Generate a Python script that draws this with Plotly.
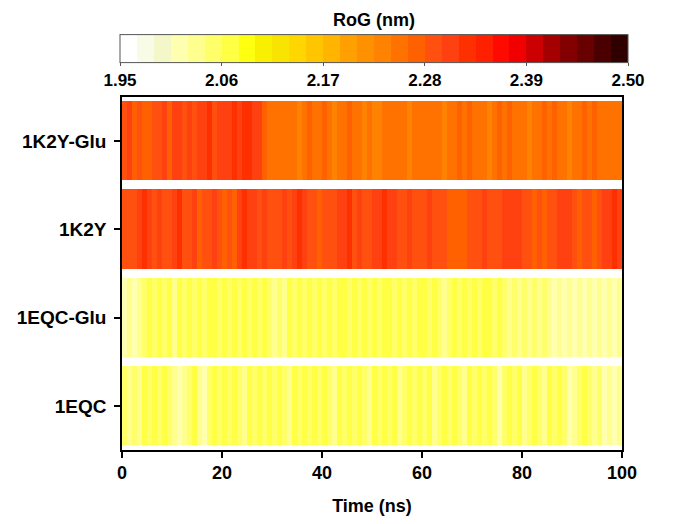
import plotly.graph_objects as go

# ---------------- data ----------------
systems = ["1EQC", "1EQC-Glu", "1K2Y", "1K2Y-Glu"]          # bottom -> top
time_ns = [i + 0.5 for i in range(100)]                       # bin centres (ns)

rog_1k2y_glu = [
    2.29, 2.30, 2.27, 2.285, 2.265, 2.27, 2.29, 2.285, 2.30, 2.27,
    2.31, 2.31, 2.29, 2.30, 2.285, 2.31, 2.30, 2.32, 2.29, 2.30,
    2.31, 2.30, 2.32, 2.31, 2.33, 2.32, 2.31, 2.30, 2.27, 2.255,
    2.25, 2.255, 2.25, 2.255, 2.25, 2.24, 2.255, 2.27, 2.25, 2.255,
    2.27, 2.25, 2.24, 2.255, 2.25, 2.27, 2.25, 2.255, 2.24, 2.25,
    2.24, 2.235, 2.25, 2.255, 2.25, 2.255, 2.25, 2.24, 2.255, 2.25,
    2.255, 2.25, 2.255, 2.25, 2.24, 2.255, 2.25, 2.27, 2.255, 2.27,
    2.25, 2.255, 2.25, 2.24, 2.255, 2.27, 2.255, 2.27, 2.25, 2.255,
    2.25, 2.24, 2.255, 2.25, 2.27, 2.255, 2.27, 2.25, 2.255, 2.24,
    2.25, 2.255, 2.27, 2.255, 2.27, 2.255, 2.25, 2.255, 2.25, 2.255,
]

rog_1k2y = [
    2.285, 2.29, 2.285, 2.30, 2.32, 2.31, 2.29, 2.30, 2.285, 2.29,
    2.31, 2.32, 2.29, 2.285, 2.30, 2.27, 2.29, 2.285, 2.30, 2.29,
    2.27, 2.285, 2.27, 2.31, 2.32, 2.30, 2.31, 2.29, 2.30, 2.285,
    2.29, 2.285, 2.30, 2.29, 2.31, 2.32, 2.30, 2.29, 2.285, 2.27,
    2.285, 2.29, 2.285, 2.31, 2.30, 2.32, 2.29, 2.30, 2.285, 2.29,
    2.31, 2.30, 2.32, 2.31, 2.30, 2.29, 2.285, 2.30, 2.29, 2.285,
    2.29, 2.30, 2.285, 2.29, 2.285, 2.27, 2.265, 2.27, 2.265, 2.285,
    2.29, 2.285, 2.30, 2.29, 2.285, 2.29, 2.31, 2.30, 2.31, 2.30,
    2.29, 2.285, 2.27, 2.285, 2.27, 2.285, 2.29, 2.31, 2.30, 2.31,
    2.285, 2.27, 2.285, 2.29, 2.27, 2.285, 2.30, 2.31, 2.32, 2.31,
]

rog_1eqc_glu = [
    2.02, 2.035, 2.02, 2.035, 2.05, 2.065, 2.05, 2.065, 2.05, 2.065,
    2.035, 2.065, 2.05, 2.065, 2.05, 2.065, 2.05, 2.065, 2.065, 2.05,
    2.065, 2.05, 2.065, 2.05, 2.065, 2.05, 2.065, 2.05, 2.065, 2.05,
    2.035, 2.05, 2.035, 2.065, 2.05, 2.065, 2.05, 2.065, 2.05, 2.065,
    2.05, 2.065, 2.05, 2.065, 2.065, 2.05, 2.065, 2.05, 2.065, 2.05,
    2.065, 2.05, 2.065, 2.065, 2.05, 2.065, 2.05, 2.065, 2.05, 2.065,
    2.065, 2.05, 2.065, 2.05, 2.035, 2.05, 2.065, 2.05, 2.065, 2.05,
    2.065, 2.05, 2.065, 2.065, 2.05, 2.065, 2.05, 2.035, 2.05, 2.035,
    2.05, 2.035, 2.05, 2.035, 2.05, 2.035, 2.02, 2.035, 2.02, 2.035,
    2.02, 2.035, 2.02, 2.035, 2.02, 2.035, 2.02, 2.035, 2.02, 2.035,
]

rog_1eqc = [
    2.05, 2.035, 2.05, 2.035, 2.065, 2.05, 2.065, 2.05, 2.065, 2.05,
    2.035, 2.02, 2.035, 2.05, 2.065, 2.035, 2.02, 2.05, 2.065, 2.05,
    2.065, 2.05, 2.065, 2.05, 2.035, 2.065, 2.05, 2.065, 2.05, 2.065,
    2.05, 2.065, 2.05, 2.035, 2.065, 2.05, 2.065, 2.05, 2.065, 2.05,
    2.065, 2.05, 2.035, 2.065, 2.05, 2.065, 2.05, 2.065, 2.05, 2.035,
    2.065, 2.05, 2.065, 2.05, 2.065, 2.035, 2.05, 2.065, 2.05, 2.065,
    2.05, 2.065, 2.035, 2.05, 2.065, 2.05, 2.065, 2.05, 2.035, 2.065,
    2.05, 2.065, 2.05, 2.065, 2.05, 2.02, 2.05, 2.065, 2.05, 2.065,
    2.035, 2.05, 2.065, 2.05, 2.035, 2.065, 2.05, 2.065, 2.05, 2.02,
    2.035, 2.05, 2.065, 2.05, 2.035, 2.05, 2.02, 2.035, 2.02, 2.035,
]

cbar_tickvals = [1.95, 2.06, 2.17, 2.28, 2.39, 2.50]
cbar_ticktext = ["1.95", "2.06", "2.17", "2.28", "2.39", "2.50"]
x_tickvals = [0, 20, 40, 60, 80, 100]

# ---------------- styling ----------------
step_colors = [
    "#FFFFFF", "#F8FCE6", "#F4F8C8", "#FFFFB0", "#FFFF90", "#FFFF6A",
    "#FFFF44", "#FFFF10", "#F8F000", "#F8E400", "#FFD600", "#FFC600",
    "#FFB400", "#FFA000", "#FF9000", "#FF8200", "#FF7200", "#FF6000",
    "#FF5010", "#FF4010", "#FF3000", "#FF2000", "#FF0A00", "#F00000",
    "#CC0000", "#A40000", "#820000", "#680000", "#4A0000", "#300000",
]
n = len(step_colors)
colorscale = []
for k, c in enumerate(step_colors):
    colorscale.append([k / n, c])
    colorscale.append([(k + 1) / n, c])

FONT = "Liberation Sans, Arial, sans-serif"

z = [rog_1eqc, rog_1eqc_glu, rog_1k2y, rog_1k2y_glu]

fig = go.Figure(
    go.Heatmap(
        x=time_ns,
        y=systems,
        z=z,
        zmin=1.95,
        zmax=2.50,
        colorscale=colorscale,
        ygap=9,
        colorbar=dict(
            orientation="h",
            x=0.504,
            xanchor="center",
            y=1.017,
            yanchor="bottom",
            ypad=0,
            xpad=0,
            len=1.016,
            lenmode="fraction",
            thickness=28,
            outlinecolor="#555555",
            outlinewidth=1,
            tickvals=cbar_tickvals,
            ticktext=cbar_ticktext,
            ticks="outside",
            ticklen=3,
            tickcolor="#555555",
            tickfont=dict(family=FONT, size=17, color="black", weight="bold"),
        ),
        hovertemplate="%{y}<br>t=%{x} ns<br>RoG=%{z}<extra></extra>",
    )
)

# The page body keeps its default 8px margin, so the figure is sized and
# padded to land where the reference has it inside the 686x524 window.
fig.update_layout(
    width=670,
    height=508,
    paper_bgcolor="white",
    plot_bgcolor="white",
    margin=dict(l=114, r=56, t=89, b=66, autoexpand=False),
    font=dict(family=FONT, color="black"),
    xaxis=dict(
        range=[0, 100],
        tickvals=x_tickvals,
        ticks="outside",
        ticklen=6,
        tickwidth=1.5,
        tickcolor="black",
        showline=True,
        linecolor="black",
        linewidth=1.5,
        mirror=True,
        showgrid=False,
        zeroline=False,
        automargin=False,
        tickfont=dict(family=FONT, size=18, color="black", weight="bold"),
        title=dict(
            text="Time (ns)",
            font=dict(family=FONT, size=18, color="black", weight="bold"),
            standoff=56,
        ),
    ),
    yaxis=dict(
        ticks="outside",
        ticklen=6,
        tickwidth=1.5,
        tickcolor="black",
        showline=True,
        linecolor="black",
        linewidth=1.5,
        mirror=True,
        showgrid=False,
        zeroline=False,
        automargin=False,
        ticklabelstandoff=4,
        tickfont=dict(family=FONT, size=19, color="black", weight="bold"),
    ),
    annotations=[
        dict(
            text="RoG (nm)",
            xref="paper",
            yref="paper",
            x=0.504,
            y=1.218,
            xanchor="center",
            yanchor="middle",
            showarrow=False,
            font=dict(family=FONT, size=18, color="black", weight="bold"),
        )
    ],
)

fig.write_html("out.html")
